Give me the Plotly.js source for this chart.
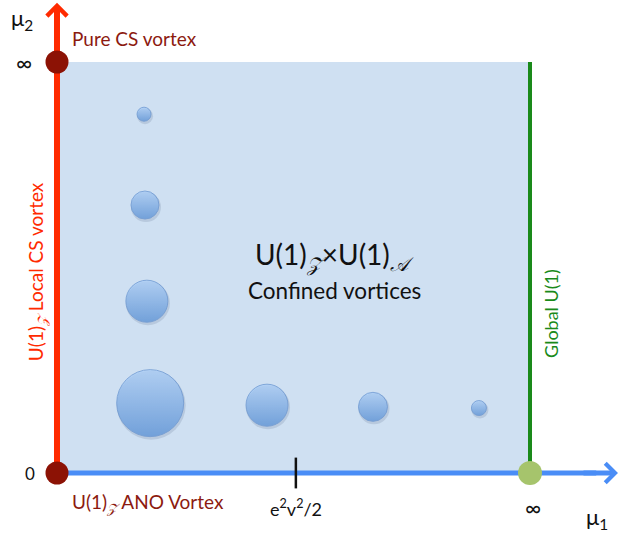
<!DOCTYPE html>
<html>
<head>
<meta charset="utf-8">
<script src="https://cdn.plot.ly/plotly-3.0.1.min.js"></script>
<style>html,body{margin:0;padding:0;background:#fff;}#chart{width:620px;height:533px;}</style>
</head>
<body>
<div id="chart"></div>
<script>
// Confined vortices (bubbles) in the (mu1, mu2) plane; mu scaled 0..1 (1 = infinity)
const bubbleMu1 = [0.197, 0.444, 0.668, 0.892, 0.184, 0.186, 0.190];
const bubbleMu2 = [0.170, 0.165, 0.161, 0.158, 0.873, 0.652, 0.418];
const bubbleSize = [67, 42, 29, 15, 14, 28, 42];

// Limiting points
const cornerMu1 = [0, 0];
const cornerMu2 = [1, 0];
const globalMu1 = [1];
const globalMu2 = [0];

// Special tick on mu1 axis
const tickMu1 = [0.505];
const tickLabel = ['e<sup>2</sup>v<sup>2</sup>/2'];

const FONT = 'Lato, "Open Sans", "Noto Sans", sans-serif';
const DARKRED = '#8c1a10';
const RED = '#ff2a00';
const BLUE = '#4a8df6';
const GREEN = '#1a8a1a';
const Zsub = '<sub><span style="font-family:DejaVu Serif;font-style:italic">𝒵</span></sub>';
const Asub = '<sub><span style="font-family:DejaVu Serif;font-style:italic">𝒜</span></sub>';

// soft drop shadow for the bubbles (1px right, 2px down)
const PX_X = 1 / 473, PX_Y = 1 / 411;

const traces = [
  {
    x: bubbleMu1.map(v => v + 1 * PX_X), y: bubbleMu2.map(v => v - 2 * PX_Y),
    type: 'scatter', mode: 'markers', hoverinfo: 'skip', cliponaxis: false,
    marker: {size: bubbleSize.map(s => s + 2), color: 'rgba(60,80,110,0.22)', line: {width: 0}}
  },
  {
    x: bubbleMu1, y: bubbleMu2, type: 'scatter', mode: 'markers',
    hoverinfo: 'skip', cliponaxis: false,
    marker: {
      size: bubbleSize, color: '#acd0fa',
      gradient: {type: 'vertical', color: '#5590d8'},
      line: {color: '#5f8fcf', width: 1}
    }
  },
  {
    x: tickMu1, y: [0], type: 'scatter', mode: 'markers', cliponaxis: false, hoverinfo: 'skip',
    marker: {symbol: 'line-ns-open', size: 22, color: '#111', line: {color: '#111', width: 2.5}}
  },
  {
    x: cornerMu1, y: cornerMu2, type: 'scatter', mode: 'markers', cliponaxis: false, hoverinfo: 'skip',
    marker: {size: 23, color: '#8c1205', line: {width: 0}}
  },
  {
    x: globalMu1, y: globalMu2, type: 'scatter', mode: 'markers', cliponaxis: false, hoverinfo: 'skip',
    marker: {size: 24, color: '#a6c46c', line: {width: 0}}
  }
];

const shapes = [
  {type: 'line', xref: 'paper', yref: 'paper', x0: 0, x1: 0, y0: 0, y1: 1.08, layer: 'below', line: {color: RED, width: 6}},
  {type: 'line', xref: 'paper', yref: 'paper', x0: 0, x1: 1.14, y0: 0, y1: 0, layer: 'below', line: {color: BLUE, width: 5}},
  {type: 'line', xref: 'paper', yref: 'paper', x0: 1, x1: 1, y0: 0, y1: 1, layer: 'below', line: {color: GREEN, width: 4}}
];

function label(x, y, text, size, color, extra) {
  return Object.assign({xref: 'paper', yref: 'paper', x: x, y: y, text: text, showarrow: false,
    xanchor: 'center', yanchor: 'middle', font: {family: FONT, size: size, color: color}}, extra || {});
}

const annotations = [
  // arrowheads
  {xref: 'paper', yref: 'paper', x: 0, y: 1.144, ax: 0, ay: 36, text: '', showarrow: true,
   arrowhead: 4, arrowwidth: 6, arrowsize: 0.65, arrowcolor: RED},
  {xref: 'paper', yref: 'paper', x: 1.186, y: 0, ax: -36, ay: 0, text: '', showarrow: true,
   arrowhead: 4, arrowwidth: 5, arrowsize: 0.75, arrowcolor: BLUE},
  // axis labels
  label(-0.074, 1.104, 'μ<sub>2</sub>', 22, '#111'),
  label(1.142, -0.109, 'μ<sub>1</sub>', 22, '#111'),
  label(-0.07, 1.0, '∞', 22, '#111'),
  label(-0.057, 0, '0', 17, '#111'),
  label(1.006, -0.083, '∞', 22, '#111'),
  label(tickMu1[0], -0.085, tickLabel[0], 18, '#111', {xref: 'x'}),
  // descriptions
  label(0.0275, 1.058, 'Pure CS vortex', 19, DARKRED, {xanchor: 'left'}),
  label(0.0275, -0.073, 'U(1)' + Zsub + ' ANO Vortex', 19, DARKRED, {xanchor: 'left'}),
  label(-0.042, 0.489, 'U(1)' + Zsub + ' Local CS vortex', 19, RED, {textangle: -90}),
  label(1.044, 0.389, 'Global U(1)', 18, GREEN, {textangle: -90}),
  label(0.586, 0.526, 'U(1)' + Zsub + '×U(1)' + Asub, 28, '#111'),
  label(0.586, 0.443, 'Confined vortices', 22.5, '#111')
];

const layout = {
  width: 620, height: 533,
  margin: {l: 57, r: 90, t: 62, b: 60, pad: 0},
  paper_bgcolor: '#ffffff',
  plot_bgcolor: '#cfe0f2',
  showlegend: false,
  xaxis: {range: [0, 1], visible: false, fixedrange: true},
  yaxis: {range: [0, 1], visible: false, fixedrange: true},
  shapes: shapes,
  annotations: annotations
};

Plotly.newPlot('chart', traces, layout, {displayModeBar: false, staticPlot: true});
</script>
</body>
</html>
